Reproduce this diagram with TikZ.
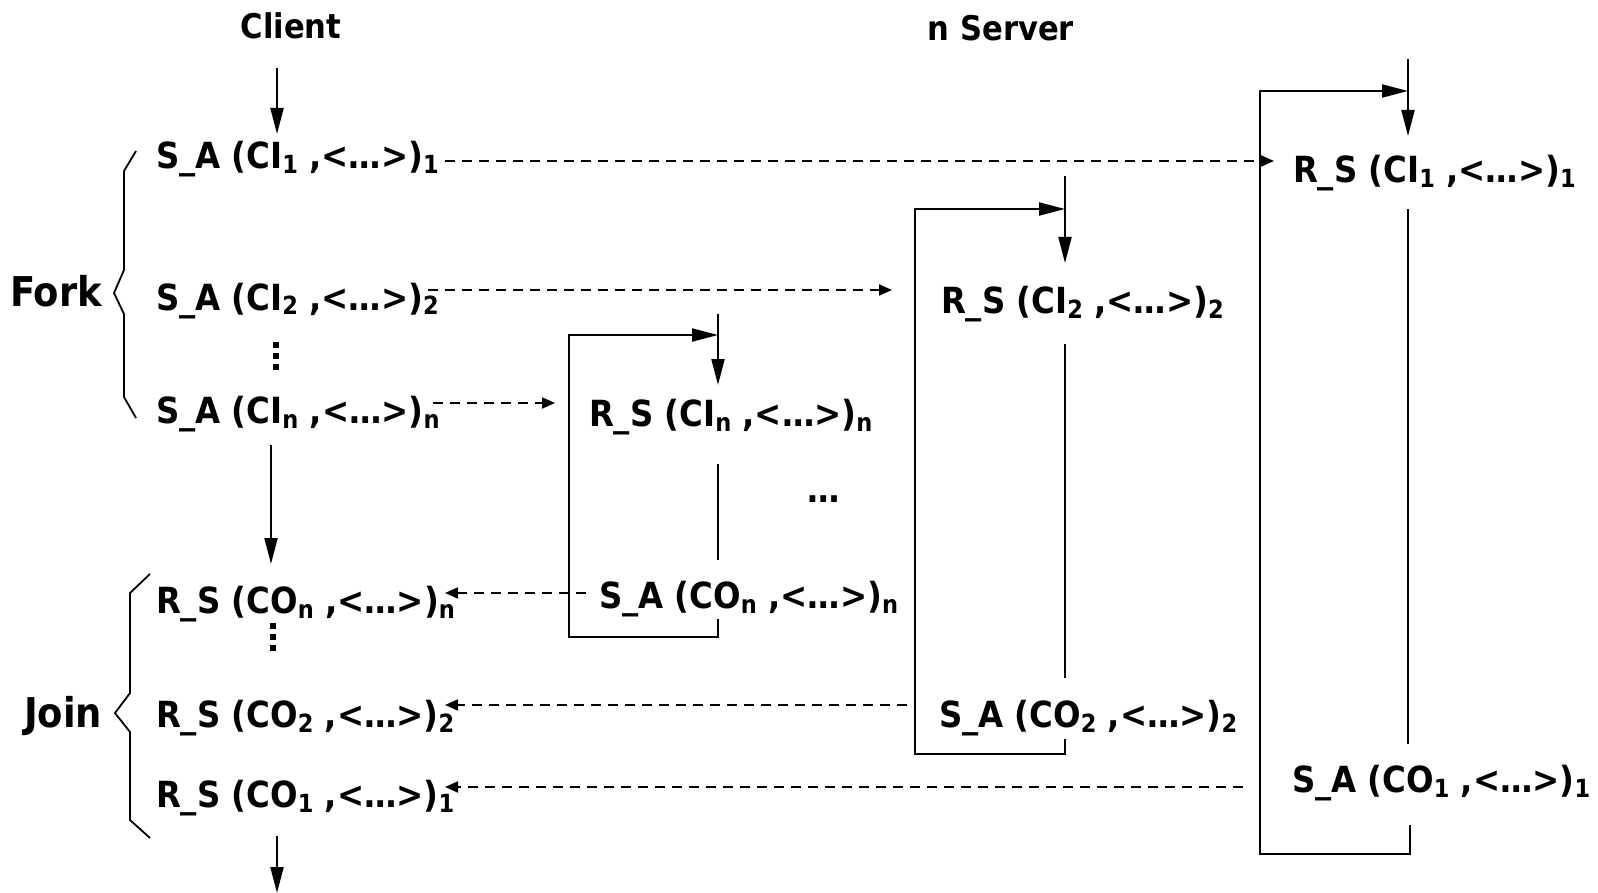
\documentclass[tikz,border=0pt]{standalone}
\usepackage{fontspec}
\setmainfont{DejaVu Sans Condensed}[BoldFont={DejaVu Sans Condensed Bold}]
\usetikzlibrary{arrows.meta}
\newcommand\sbs[1]{\raisebox{-5pt}{\fontsize{25}{25}\selectfont #1}}
\newcommand\msg[3]{#1 (#2\sbs{#3} ,<…>)\sbs{#3}}
\begin{document}
\begin{tikzpicture}[x=1pt,y=-1pt,line width=2pt,
  lab/.style={font=\fontsize{36}{40}\selectfont\bfseries,inner sep=0pt,anchor=base west},
  big/.style={font=\fontsize{41}{48}\selectfont\bfseries,inner sep=0pt,anchor=base},
  head/.style={font=\fontsize{34}{40}\selectfont\bfseries,inner sep=0pt,anchor=base},
  sarrow/.style={-{Triangle[length=26pt,width=13pt]}},
  darrow/.style={dash pattern=on 10pt off 7pt,-{Triangle[length=13pt,width=11pt]}},
  dotsq/.style={fill=black,draw=none,minimum size=6pt,inner sep=0pt}]
\useasboundingbox (0,0) rectangle (1598,893);
% headings
\node[head] (client) at (291,39) {Client};
\node[head] (server) at (1001,41) {n Server};
\node[big] (fork) at (56,306) {Fork};
\node[big] (join) at (63,727) {Join};
% client labels
\node[lab] (sa1) at (155,169) {\msg{S\_A}{CI}{1}};
\node[lab] (sa2) at (155,310) {\msg{S\_A}{CI}{2}};
\node[lab] (san) at (155,423) {\msg{S\_A}{CI}{n}};
\node[lab] (rcn) at (155,613) {\msg{R\_S}{CO}{n}};
\node[lab] (rc2) at (155,727) {\msg{R\_S}{CO}{2}};
\node[lab] (rc1) at (155,807) {\msg{R\_S}{CO}{1}};
% server labels
\node[lab] (rs1) at (1292,183) {\msg{R\_S}{CI}{1}};
\node[lab] (rs2) at (940,313) {\msg{R\_S}{CI}{2}};
\node[lab] (rsn) at (588,426) {\msg{R\_S}{CI}{n}};
\node[lab] (scn) at (598,608) {\msg{S\_A}{CO}{n}};
\node[lab] (sc2) at (938,727) {\msg{S\_A}{CO}{2}};
\node[lab] (sc1) at (1291,792) {\msg{S\_A}{CO}{1}};
\node[font=\fontsize{36}{40}\selectfont\bfseries,inner sep=0pt,anchor=base] (hd) at (824,502) {…};
% vertical dots
\foreach \y [count=\i] in {345,356,367} \node[dotsq] (va\i) at (276,\y) {};
\foreach \y [count=\i] in {626,637,648} \node[dotsq] (vb\i) at (273,\y) {};
% coordinates
\coordinate (c0) at (277,68);  \coordinate (c1) at (277,134);
\coordinate (c2) at (271,445); \coordinate (c3) at (271,564);
\coordinate (c4) at (277,836); \coordinate (c5) at (277,893);
% dashed arrows
\coordinate (d1s) at (445,161); \coordinate (d1e) at (1274,161);
\coordinate (d2s) at (428,290); \coordinate (d2e) at (892,290);
\coordinate (d3s) at (433,403); \coordinate (d3e) at (555,403);
\coordinate (d4s) at (586,593); \coordinate (d4e) at (445,593);
\coordinate (d5s) at (907,705); \coordinate (d5e) at (445,705);
\coordinate (d6s) at (1243,787); \coordinate (d6e) at (445,787);
\draw[darrow] (d1s) -- (d1e);
\draw[darrow] (d2s) -- (d2e);
\draw[darrow] (d3s) -- (d3e);
\draw[darrow] (d4s) -- (d4e);
\draw[darrow] (d5s) -- (d5e);
\draw[darrow] (d6s) -- (d6e);
% client arrows
\draw[sarrow] (c0) -- (c1);
\draw[sarrow] (c2) -- (c3);
\draw[sarrow] (c4) -- (c5);
% server n box
\coordinate (n0) at (718,314); \coordinate (n1) at (718,385);
\coordinate (nb) at (718,619); \coordinate (nbr) at (718,637);
\coordinate (nbl) at (569,637); \coordinate (ntl) at (569,335); \coordinate (ntr) at (718,335);
\coordinate (nv0) at (718,464); \coordinate (nv1) at (718,560);
\draw[sarrow] (n0) -- (n1);
\draw[sarrow] (nb) -- (nbr) -- (nbl) -- (ntl) -- (ntr);
\draw (nv0) -- (nv1);
% server 2 box
\coordinate (t0) at (1065,176); \coordinate (t1) at (1065,263);
\coordinate (tb) at (1065,739); \coordinate (tbr) at (1065,754);
\coordinate (tbl) at (915,754); \coordinate (ttl) at (915,209); \coordinate (ttr) at (1065,209);
\coordinate (tv0) at (1065,344); \coordinate (tv1) at (1065,678);
\draw[sarrow] (t0) -- (t1);
\draw[sarrow] (tb) -- (tbr) -- (tbl) -- (ttl) -- (ttr);
\draw (tv0) -- (tv1);
% server 1 box
\coordinate (o0) at (1408,59); \coordinate (o1) at (1408,136);
\coordinate (ob) at (1410,825); \coordinate (obr) at (1410,854);
\coordinate (obl) at (1260,854); \coordinate (otl) at (1260,91); \coordinate (otr) at (1408,91);
\coordinate (ov0) at (1408,209); \coordinate (ov1) at (1408,744);
\draw[sarrow] (o0) -- (o1);
\draw[sarrow] (ob) -- (obr) -- (obl) -- (otl) -- (otr);
\draw (ov0) -- (ov1);
% braces
\coordinate (fa) at (136,151); \coordinate (fb) at (124,171); \coordinate (fc) at (124,270);
\coordinate (fd) at (114,293); \coordinate (fe) at (124,314); \coordinate (ff) at (124,397);
\coordinate (fg) at (136,418);
\draw[line width=1.8pt] (fa) -- (fb) -- (fc) -- (fd) -- (fe) -- (ff) -- (fg);
\coordinate (ja) at (150,574); \coordinate (jb) at (130,593); \coordinate (jc) at (130,693);
\coordinate (jd) at (115,713); \coordinate (je) at (130,732); \coordinate (jf) at (130,820);
\coordinate (jg) at (150,838);
\draw[line width=1.8pt] (ja) -- (jb) -- (jc) -- (jd) -- (je) -- (jf) -- (jg);
\end{tikzpicture}
\end{document}
